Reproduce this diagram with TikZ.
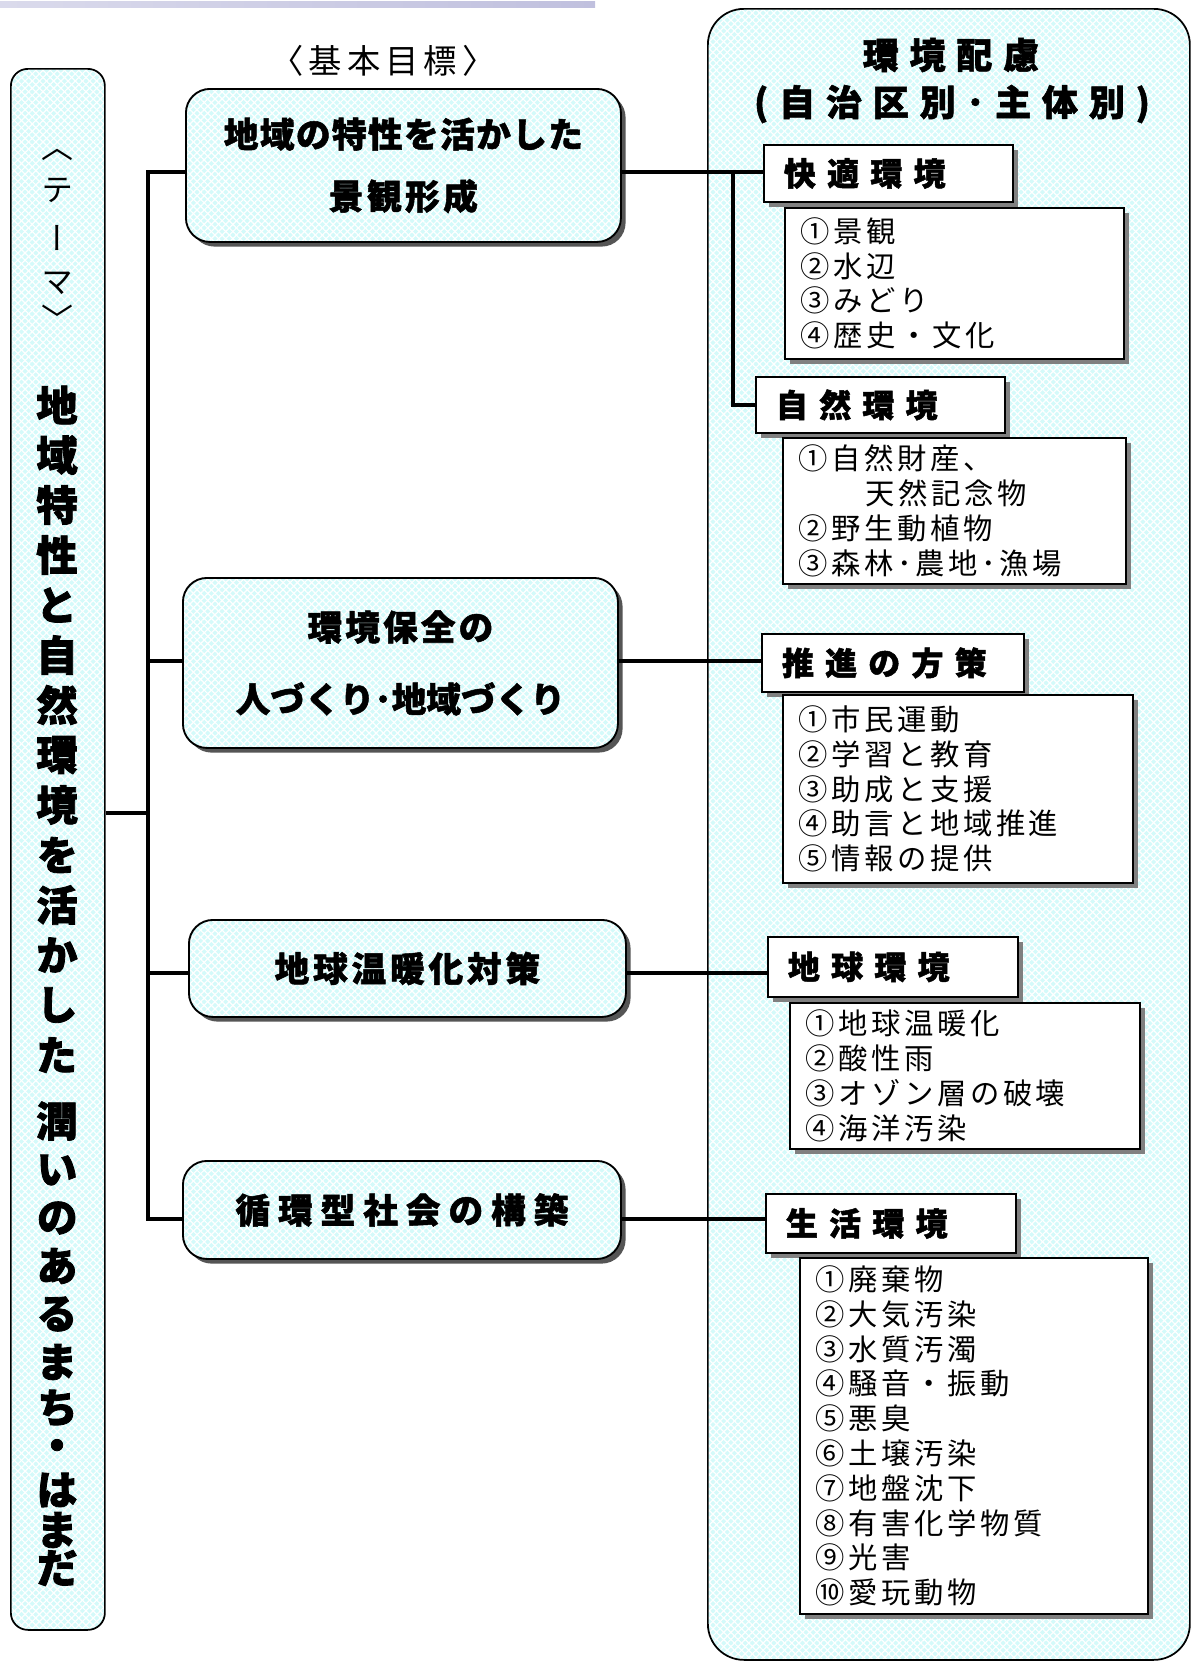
\documentclass[tikz,border=0pt]{standalone}
\usepackage{fontspec}
\usetikzlibrary{shadows,patterns.meta}
\newfontfamily\jpr{Noto Sans CJK JP}
\newfontfamily\jpv[RawFeature=+vert]{Noto Sans CJK JP}
\definecolor{cyanbg}{RGB}{212,250,250}
\definecolor{stripc}{RGB}{150,150,200}
\definecolor{shadowgray}{RGB}{128,128,128}
\definecolor{shadowdark}{RGB}{85,85,85}
\tikzset{
  px/.style={x=0.75pt,y=-0.75pt},
  hatched/.style={
    preaction={fill=cyanbg},
    preaction={pattern={Lines[angle=45,distance=3.8pt,line width=0.9pt]},pattern color=white},
    preaction={pattern={Lines[angle=-45,distance=3.8pt,line width=0.9pt]},pattern color=white}},
  conn/.style={line width=2.4pt},
  goalbox/.style={rectangle, rounded corners=18pt,
    drop shadow={shadow xshift=3.5pt,shadow yshift=-3.5pt,fill=shadowdark,opacity=1},
    hatched, draw, line width=1.4pt, anchor=north west, inner sep=0pt, align=center},
  themebox/.style={rectangle, rounded corners=12.75pt, hatched, draw, line width=1.3pt,
    anchor=north west, inner sep=0pt},
  panelbox/.style={rectangle, rounded corners=27pt, hatched, draw, line width=1.3pt,
    anchor=north west, inner sep=0pt},
  catbox/.style={rectangle, draw, fill=white, line width=1.4pt,
    drop shadow={shadow xshift=4pt,shadow yshift=-4pt,fill=shadowgray,opacity=1},
    anchor=north west, inner xsep=15pt, inner ysep=0pt, align=left,
    font=\jpr\bfseries\fontsize{24pt}{28pt}\selectfont\addfontfeature{LetterSpace=35,FakeBold=1.5}},
  itembox/.style={rectangle, draw, fill=white, line width=1.4pt,
    drop shadow={shadow xshift=4pt,shadow yshift=-4pt,fill=shadowgray,opacity=1},
    anchor=north west, inner xsep=12pt, inner ysep=0pt, align=left,
    font=\jpr\fontsize{22pt}{26.1pt}\selectfont\addfontfeature{LetterSpace=12}},
  goaltext/.style={font=\jpr\bfseries\fontsize{26pt}{46.5pt}\selectfont\addfontfeature{FakeBold=1.5}},
  vlight/.style={font=\jpv\fontsize{24pt}{24pt}\selectfont, inner sep=0pt},
  vbold/.style={font=\jpv\bfseries\fontsize{31pt}{31pt}\selectfont\addfontfeature{FakeBold=2}, inner sep=0pt},
  titletext/.style={font=\jpr\bfseries\fontsize{27pt}{27pt}\selectfont\addfontfeature{LetterSpace=30,FakeBold=1.5}, inner sep=0pt}
}
\begin{document}
\begin{tikzpicture}[px]
\useasboundingbox (0,0) rectangle (1191,1661);
% top strip
\shade[left color=stripc!35, right color=stripc!60] (0,1) rectangle (595,7);

% panels
\node[panelbox, minimum width=361.5pt, minimum height=1238.25pt] (panel) at (707,8) {};
\node[themebox, minimum width=70.5pt, minimum height=1170.75pt] (theme) at (10,68) {};

% theme vertical text
\foreach[count=\k] \ch/\yy in {〈/155,テ/190,ー/238,マ/283,〉/318}
  \node[vlight] (tl\k) at (57,\yy) {\ch};
\foreach[count=\k] \ch/\yy in {地/405,域/455,特/505,性/555,と/605,自/655,然/705,環/755,境/805,を/855,活/905,か/955,し/1005,た/1055,潤/1121,い/1170,の/1218,あ/1266,る/1314,ま/1362,ち/1408,・/1450,は/1490,ま/1530,だ/1568}
  \node[vbold] (tb\k) at (57,\yy) {\ch};

% heading of goals
\node[font=\jpr\fontsize{25pt}{25pt}\selectfont\addfontfeature{LetterSpace=15}, inner sep=0pt] (kihon) at (383,61) {〈基本目標〉};

% goal boxes
\node[goalbox, goaltext, minimum width=326.25pt, minimum height=114.75pt] (g1) at (185,88)
  {{\addfontfeature{LetterSpace=4}地域の特性を活かした}\\{\addfontfeature{LetterSpace=10}景観形成}};
\node[goalbox, goaltext, font=\jpr\bfseries\fontsize{26pt}{54pt}\selectfont\addfontfeature{FakeBold=1.5}, minimum width=326.25pt, minimum height=127.5pt] (g2) at (182,577)
  {{\addfontfeature{LetterSpace=9}環境保全の}\\人づくり･地域づくり};
\node[goalbox, goaltext, minimum width=327.75pt, minimum height=72.75pt] (g3) at (188,919)
  {{\addfontfeature{LetterSpace=11}地球温暖化対策}};
\node[goalbox, goaltext, minimum width=328.5pt, minimum height=73.5pt] (g4) at (182,1160)
  {{\addfontfeature{LetterSpace=23}循環型社会の構築}};

% panel title
\node[titletext] (title1) at (951,55) {環境配慮};
\node[titletext] (title2) at (952,104) {(自治区別･主体別)};

% categories and items
\node[catbox, text width=156.75pt, minimum height=42.75pt] (c1) at (763,144) {快適環境};
\node[itembox, text width=230.25pt, minimum height=113.25pt] (i1) at (784,207)
  {①景観\\②水辺\\③みどり\\④歴史・文化};

\node[catbox, text width=156.75pt, minimum height=42pt] (c2) at (755,376) {自然環境};
\node[itembox, text width=233.25pt, minimum height=109.5pt] (i2) at (782,437)
  {①自然財産、\\\hspace*{50pt}天然記念物\\②野生動植物\\③森林･農地･漁場};

\node[catbox, text width=166.5pt, minimum height=43.5pt] (c3) at (761,633) {推進の方策};
\node[itembox, text width=238.5pt, minimum height=141pt] (i3) at (782,694)
  {①市民運動\\②学習と教育\\③助成と支援\\④助言と地域推進\\⑤情報の提供};

\node[catbox, text width=157.5pt, minimum height=45pt] (c4) at (767,936) {地球環境};
\node[itembox, text width=238.5pt, minimum height=109.5pt] (i4) at (789,1002)
  {①地球温暖化\\②酸性雨\\③オゾン層の破壊\\④海洋汚染};

\node[catbox, text width=157.5pt, minimum height=44.25pt] (c5) at (765,1193) {生活環境};
\node[itembox, text width=237pt, minimum height=267pt] (i5) at (799,1257)
  {①廃棄物\\②大気汚染\\③水質汚濁\\④騒音・振動\\⑤悪臭\\⑥土壌汚染\\⑦地盤沈下\\⑧有害化学物質\\⑨光害\\⑩愛玩動物};

% connectors
\coordinate (jTop) at (148,172);
\coordinate (jBot) at (148,1219);
\coordinate (j2) at (148,661);
\coordinate (j3) at (148,973);
\coordinate (jT) at (148,813);
\coordinate (r1) at (733,172);
\draw[conn] (g1.west |- jTop) -- (jTop) -- (jBot) -- (g4.west |- jBot);
\draw[conn] (theme.east |- jT) -- (jT);
\draw[conn] (j2) -- (g2.west |- j2);
\draw[conn] (j3) -- (g3.west |- j3);
\draw[conn] (g1.east |- jTop) -- (c1.west |- jTop);
\draw[conn] (r1) -- (r1 |- c2.west) -- (c2.west);
\draw[conn] (g2.east |- j2) -- (c3.west |- j2);
\draw[conn] (g3.east |- j3) -- (c4.west |- j3);
\draw[conn] (g4.east |- jBot) -- (c5.west |- jBot);
\end{tikzpicture}
\end{document}
